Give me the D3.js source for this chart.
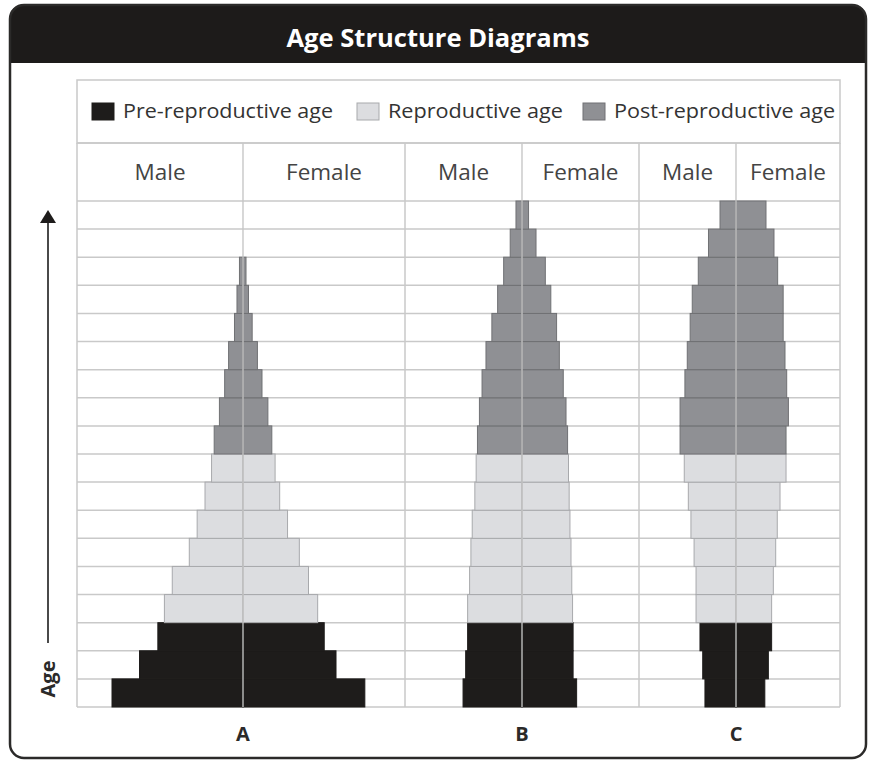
<!DOCTYPE html>
<html>
<head>
<meta charset="utf-8">
<script src="https://cdn.jsdelivr.net/npm/d3@7"></script>
<style>
  body { margin: 0; background: #fff; }
  svg text { font-family: "Open Sans", "DejaVu Sans", sans-serif; }
</style>
</head>
<body>
<div id="chart"></div>
<script>
// age groups, from the youngest (bottom row) to the oldest (top row)
const ageGroups = ["0-4", "5-9", "10-14", "15-19", "20-24", "25-29", "30-34", "35-39", "40-44",
                   "45-49", "50-54", "55-59", "60-64", "65-69", "70-74", "75-79", "80-84", "85+"];
const stages = ["Pre-reproductive age", "Reproductive age", "Post-reproductive age"];
const stageGroups = [3, 6, 9]; // number of age groups in each stage
const panelNames = ["A", "B", "C"];
const sexes = ["Male", "Female"];

// relative population size per age group (bottom -> top)
const maleA   = [100, 79, 65, 60, 54, 41, 35, 29, 24, 22, 18, 14, 11, 6.5, 4.6, 2.7, 0, 0];
const femaleA = [93, 71, 62, 57, 50, 43, 34, 28, 24.5, 22, 19, 14.5, 11, 7, 4.2, 2.3, 0, 0];
const maleB   = [45, 43, 41.5, 41.5, 40, 39, 38, 36, 35, 34, 32.5, 30.5, 27.5, 23, 18.6, 14, 9, 4.6];
const femaleB = [41.7, 39, 39, 38.6, 38, 37.4, 36.6, 36, 35.5, 34.8, 33.6, 31.5, 28.5, 26.4, 22, 17.8, 10.7, 5];
const maleC   = [23.7, 25.4, 27.5, 30.5, 30.5, 32, 34.4, 36.4, 39.5, 42.7, 42.7, 39, 37.2, 35, 33.4, 28.8, 21, 12.2];
const femaleC = [22, 24.7, 27.2, 27.2, 28.5, 30.3, 31.5, 33.6, 38.2, 38.2, 40, 38.7, 37.4, 36, 36, 31.8, 29, 22.9];

const W = 874, H = 761;
const colors = ["#1e1c1b", "#dcdde0", "#8f9094"];
const strokes = ["#1e1c1b", "#a8a9ac", "#707174"];

// table geometry
const tableLeft = 77, tableRight = 840;
const legendTop = 80, headTop = 143, rowsTop = 201, rowsBottom = 707;
const panelBox = {
  A: { left: 77,  center: 243, right: 405 },
  B: { left: 405, center: 522, right: 639 },
  C: { left: 639, center: 736, right: 840 }
};

const values = { A: [maleA, femaleA], B: [maleB, femaleB], C: [maleC, femaleC] };

// which stage an age group belongs to
const stageOf = [];
stageGroups.forEach((n, s) => { for (let k = 0; k < n; k++) stageOf.push(s); });

const svg = d3.select('#chart').append('svg')
  .attr('width', W).attr('height', H);

// outer frame + black title band
const fx = 10, fy = 5, fw = 856, fh = 753, r = 14, bandH = 58;
svg.append('rect')
  .attr('x', fx).attr('y', fy).attr('width', fw).attr('height', fh)
  .attr('rx', r).attr('fill', '#fff');
svg.append('path')
  .attr('d', `M${fx},${fy + bandH} V${fy + r} Q${fx},${fy} ${fx + r},${fy} H${fx + fw - r} Q${fx + fw},${fy} ${fx + fw},${fy + r} V${fy + bandH} Z`)
  .attr('fill', '#1d1b1a');
svg.append('rect')
  .attr('x', fx).attr('y', fy).attr('width', fw).attr('height', fh)
  .attr('rx', r).attr('fill', 'none')
  .attr('stroke', '#2b2a29').attr('stroke-width', 2.5);

svg.append('text')
  .attr('x', 438).attr('y', 47)
  .attr('text-anchor', 'middle')
  .attr('fill', '#fff').attr('font-weight', 700).attr('font-size', 25)
  .attr('textLength', 303).attr('lengthAdjust', 'spacingAndGlyphs')
  .text('Age Structure Diagrams');

// scales
const y = d3.scaleBand().domain(ageGroups).range([rowsBottom, rowsTop]).paddingInner(0);
const x = d3.scaleLinear().domain([0, 100]).range([0, 131]);

const grid = svg.append('g');
const gridColor = '#c9c9c9';

// horizontal row lines
const rowEdges = ageGroups.map(g => y(g)).concat([rowsBottom]);
grid.selectAll('line.row').data(rowEdges).join('line')
  .attr('x1', tableLeft).attr('x2', tableRight)
  .attr('y1', d => d).attr('y2', d => d)
  .attr('stroke', gridColor).attr('stroke-width', 1.5);
grid.append('line')
  .attr('x1', tableLeft).attr('x2', tableRight).attr('y1', headTop).attr('y2', headTop)
  .attr('stroke', gridColor).attr('stroke-width', 1.5);

// bars
const bars = svg.append('g');
panelNames.forEach(p => {
  const box = panelBox[p];
  sexes.forEach((sex, si) => {
    const vals = values[p][si];
    bars.selectAll(`rect.${p}${sex}`)
      .data(ageGroups.map((g, i) => ({ g, v: vals[i], s: stageOf[i] })).filter(d => d.v > 0))
      .join('rect')
      .attr('class', `${p}${sex}`)
      .attr('x', d => si === 0 ? box.center - x(d.v) : box.center)
      .attr('width', d => x(d.v))
      .attr('y', d => y(d.g))
      .attr('height', y.bandwidth())
      .attr('fill', d => colors[d.s])
      .attr('stroke', d => strokes[d.s]).attr('stroke-width', 1);
  });
});

// vertical lines: panel borders + male/female dividers (on top of bars)
const borders = [tableLeft].concat(panelNames.map(p => panelBox[p].right));
svg.selectAll('line.border').data(borders).join('line')
  .attr('x1', d => d).attr('x2', d => d)
  .attr('y1', headTop).attr('y2', rowsBottom)
  .attr('stroke', gridColor).attr('stroke-width', 1.5);
svg.selectAll('line.mid').data(panelNames).join('line')
  .attr('x1', p => panelBox[p].center).attr('x2', p => panelBox[p].center)
  .attr('y1', headTop).attr('y2', rowsBottom)
  .attr('stroke', '#c4c4c4').attr('stroke-opacity', 0.75).attr('stroke-width', 1.8);

// legend row
svg.append('rect')
  .attr('x', tableLeft).attr('y', legendTop)
  .attr('width', tableRight - tableLeft).attr('height', headTop - legendTop)
  .attr('fill', 'none').attr('stroke', gridColor).attr('stroke-width', 1.5);

const legendX = [92, 357, 583];
const legendW = [210, 175, 221]; // text widths in the original
const legend = svg.append('g').selectAll('g').data(stages).join('g')
  .attr('transform', (d, i) => `translate(${legendX[i]},${103})`);
legend.append('rect')
  .attr('width', 22).attr('height', 17)
  .attr('fill', (d, i) => colors[i])
  .attr('stroke', (d, i) => strokes[i]).attr('stroke-width', 1);
legend.append('text')
  .attr('x', 31).attr('y', 15)
  .attr('font-size', 20).attr('fill', '#333')
  .attr('textLength', (d, i) => legendW[i]).attr('lengthAdjust', 'spacingAndGlyphs')
  .text(d => d);

// Male / Female headers
panelNames.forEach(p => {
  const box = panelBox[p];
  const cells = [[box.left, box.center], [box.center, box.right]];
  sexes.forEach((sex, si) => {
    svg.append('text')
      .attr('x', (cells[si][0] + cells[si][1]) / 2).attr('y', 180)
      .attr('text-anchor', 'middle')
      .attr('font-size', 22.5).attr('fill', '#444')
      .text(sex);
  });
  // panel letter below
  svg.append('text')
    .attr('x', box.center).attr('y', 741)
    .attr('text-anchor', 'middle')
    .attr('font-size', 20).attr('font-weight', 700).attr('fill', '#2b2a29')
    .text(p);
});

// Age arrow on the left
const ax = 48;
svg.append('line')
  .attr('x1', ax).attr('x2', ax).attr('y1', 643).attr('y2', 220)
  .attr('stroke', '#4a4a4a').attr('stroke-width', 2);
svg.append('path')
  .attr('d', `M${ax},210 L${ax - 8},223 L${ax + 8},223 Z`)
  .attr('fill', '#1e1c1b');
svg.append('text')
  .attr('transform', `translate(${ax + 7},${679})rotate(-90)`)
  .attr('text-anchor', 'middle')
  .attr('font-size', 20).attr('font-weight', 700).attr('fill', '#2b2a29')
  .text('Age');
</script>
</body>
</html>
